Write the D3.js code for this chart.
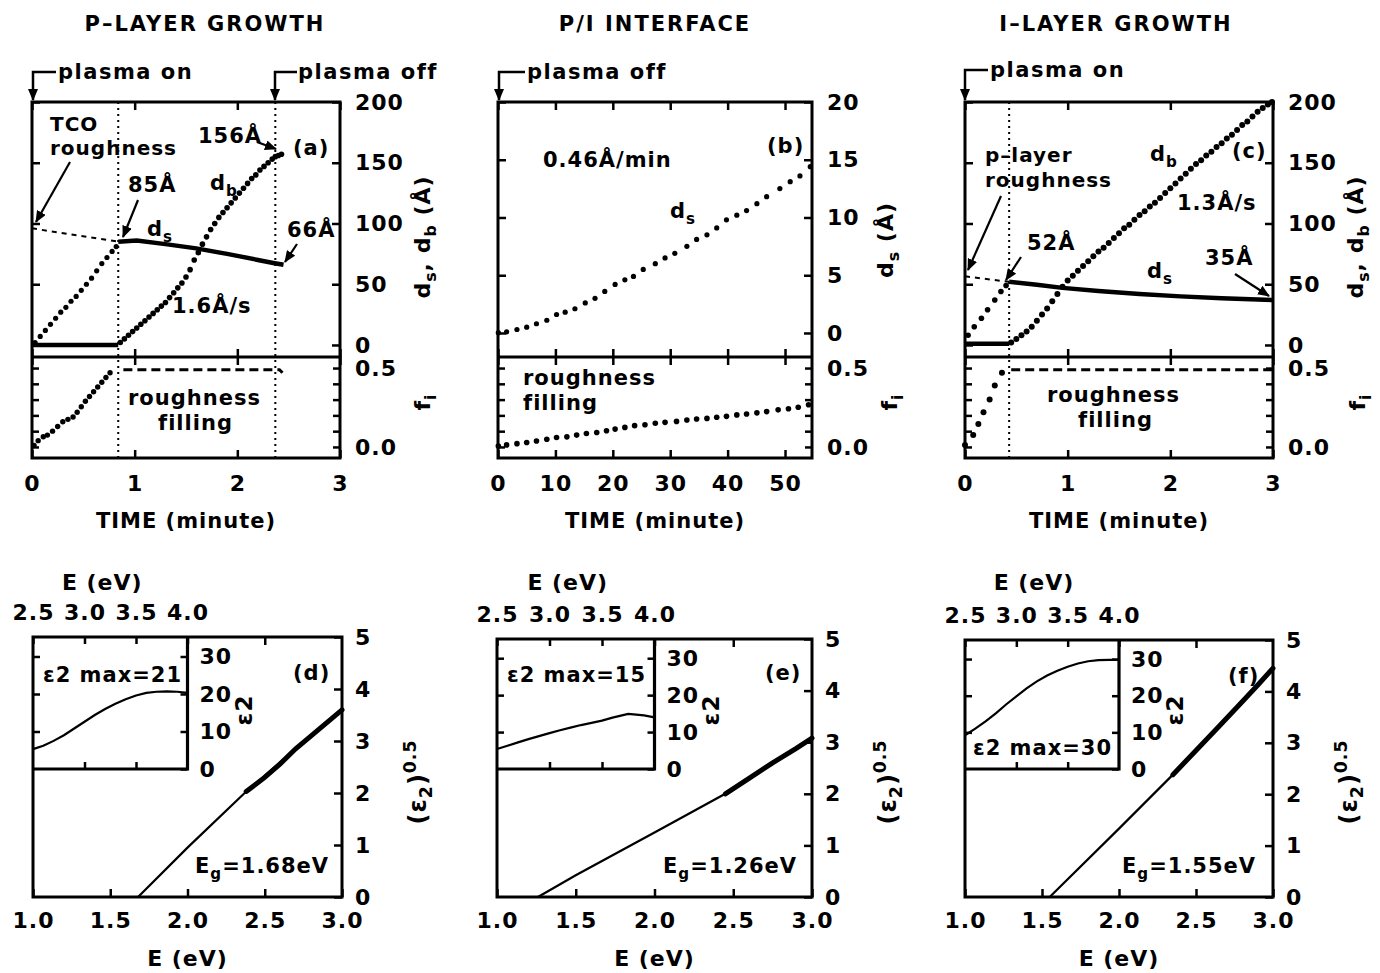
<!DOCTYPE html>
<html>
<head>
<meta charset="utf-8">
<script src="https://cdn.jsdelivr.net/npm/d3@7"></script>
<style>
body{margin:0;background:#fff}
svg text{font-family:"DejaVu Sans",sans-serif;font-weight:bold;fill:#000;letter-spacing:1px}
</style>
</head>
<body>
<svg id="fig" width="1380" height="973"></svg>
<script>
// ---------- top row: thickness / fraction vs time ----------
var titles = ["P–LAYER GROWTH", "P/I INTERFACE", "I–LAYER GROWTH"]

// (a) p-layer growth
var aPreT  = [0.03,0.08,0.13,0.18,0.23,0.28,0.33,0.38,0.43,0.48,0.53,0.58,0.63,0.68,0.73,0.78,0.82]
var aPreD  = [2,7,12,17,22,27,31,36,40,45,50,55,61,67,72,77,81]
var aBulkT = [0.86,0.90,0.94,0.98,1.02,1.06,1.10,1.14,1.18,1.22,1.26,1.30,1.34,1.38,1.42,1.46,1.50,1.54,1.58,1.62,1.66,1.70,1.74,1.78,1.82,1.86,1.90,1.94,1.98,2.02,2.06,2.10,2.14,2.18,2.22,2.26,2.30,2.34,2.37,2.40,2.43]
var aBulkD = [2,5,8,11,14,17,20,23,26,29,32,35,39,43,47,51,56,62,70,76,83,89,95,100,105,109,113,117,121,125,129,133,137,140,144,147,150,153,155,156,157]
var aSurfT = [0.84,1.02,1.30,1.60,1.90,2.20,2.35,2.45]
var aSurfD = [85,86,83,79.5,75,70,67.5,66]
var aZeroT = [0,0.84]
var aZeroD = [0,0]
var aTcoT  = [0,0.84]
var aTcoD  = [96,85]
var aFillT = [0.02,0.06,0.11,0.15,0.20,0.25,0.30,0.35,0.40,0.44,0.48,0.52,0.56,0.60,0.64,0.68,0.72,0.76]
var aFillF = [0.01,0.04,0.065,0.075,0.10,0.13,0.16,0.175,0.19,0.22,0.255,0.29,0.32,0.35,0.38,0.41,0.44,0.47]
var aPlatT = [0.89,2.41,2.44]
var aPlatF = [0.49,0.49,0.47]
var aMarks = [0.84,2.37]

// (b) p/i interface, plasma off
var bT     = [0.06,1.5,3.3,5.0,6.7,8.5,10.2,11.7,13.4,15.2,16.9,18.6,20.4,22.1,23.6,25.3,27.4,29.1,30.8,32.9,34.6,36.4,38.1,39.8,41.6,43.3,45.1,46.8,49.1,50.9,52.6,54.4]
var bD     = [0.03,0.1,0.3,0.5,0.8,1.1,1.6,1.8,2.1,2.6,3.0,3.6,4.2,4.6,4.9,5.5,6.0,6.5,6.9,7.5,8.1,8.5,9.1,9.8,10.2,10.6,11.2,11.8,12.5,13.1,13.6,14.4]
var bFillT = [0.06,1.5,3.3,5.0,6.7,8.5,10.2,12.0,13.7,15.4,17.2,18.9,20.4,22.1,23.8,25.6,27.4,29.1,31.1,32.9,34.6,36.4,38.1,39.8,41.6,43.3,45.1,46.8,48.8,50.6,52.3,54.1]
var bFillF = [0.006,0.013,0.021,0.028,0.038,0.049,0.06,0.064,0.075,0.085,0.092,0.103,0.113,0.124,0.135,0.141,0.15,0.156,0.162,0.171,0.177,0.181,0.188,0.194,0.203,0.209,0.216,0.224,0.235,0.242,0.252,0.267]

// (c) i-layer growth
var cPreT  = [0.03,0.09,0.16,0.22,0.29,0.35,0.40]
var cPreD  = [8,15,22,29,37,44,49]
var cBulkT = [0.45,0.50,0.55,0.60,0.65,0.70,0.75,0.80,0.85,0.90,0.95,1.00,1.05,1.10,1.15,1.20,1.25,1.30,1.35,1.40,1.45,1.50,1.55,1.60,1.65,1.70,1.75,1.80,1.85,1.90,1.95,2.00,2.05,2.10,2.15,2.20,2.25,2.30,2.35,2.40,2.45,2.50,2.55,2.60,2.65,2.70,2.75,2.80,2.85,2.90,2.95,2.99]
var cBulkD = [2,5,8,11,15,20,25,30,36,42,48,53,57,61,65,69,73,77,80,84,88,92,96,99,103,107,110,114,117,121,125,129,133,137,141,145,149,152,156,159,163,166,170,173,177,181,184,188,192,195,198,200]
var cSurfT = [0.43,0.70,0.95,1.30,1.70,2.10,2.50,3.00]
var cSurfD = [52,49.5,47,44.5,42,40,38.5,37]
var cZeroT = [0,0.43]
var cZeroD = [1,1]
var cRouT  = [0,0.43]
var cRouD  = [56.5,52]
var cFillT = [0.0,0.08,0.13,0.18,0.24,0.29,0.36]
var cFillF = [0.013,0.076,0.146,0.22,0.30,0.39,0.47]
var cPlatT = [0.45,3.0]
var cPlatF = [0.49,0.49]
var cMarks = [0.43]

var timeTicksA = [0,1,2,3]
var timeTicksB = [0,10,20,30,40,50]
var dTicksA = [0,50,100,150,200]
var dTicksB = [0,5,10,15,20]
var fTicks = [0,0.1,0.2,0.3,0.4,0.5]

// ---------- bottom row: (eps2)^0.5 vs E, inset eps2 ----------
var dFitE = [1.68,2.0,2.37,2.7,3.0], dFitY = [0,0.95,2.0,2.85,3.6]
var dMeasE = [2.38,2.5,2.6,2.7,2.8,2.9,3.0], dMeasY = [2.03,2.3,2.56,2.85,3.1,3.35,3.6]
var dInE = [2.5,2.6,2.7,2.8,2.9,3.0,3.1,3.2,3.3,3.4,3.5,3.6,3.7,3.8,3.9,4.0]
var dInEps = [5.3,6.2,7.5,9.0,10.8,12.6,14.4,16.0,17.4,18.6,19.6,20.3,20.6,20.7,20.6,20.3]

var eFitE = [1.26,1.5,2.0,2.49,2.75,3.0], eFitY = [0,0.42,1.25,2.07,2.6,3.08]
var eMeasE = [2.45,2.6,2.75,2.9,3.0], eMeasY = [2.0,2.3,2.6,2.88,3.08]
var eInE = [2.5,2.6,2.7,2.8,2.9,3.0,3.1,3.2,3.3,3.4,3.5,3.6,3.7,3.75,3.8,3.9,4.0]
var eInEps = [5.4,6.3,7.2,8.1,8.9,9.7,10.5,11.2,11.9,12.5,13.1,13.9,14.6,14.9,14.8,14.5,14.0]

var fFitE = [1.55,2.0,2.36,2.7,3.0], fFitY = [0,1.33,2.41,3.5,4.45]
var fMeasE = [2.35,2.5,2.65,2.8,2.9,3.0], fMeasY = [2.38,2.85,3.32,3.8,4.12,4.45]
var fInE = [2.5,2.6,2.7,2.8,2.9,3.0,3.1,3.2,3.3,3.4,3.5,3.6,3.7,3.8,3.9,4.0]
var fInEps = [9.2,11.0,13.0,15.2,17.6,19.8,22.0,23.9,25.5,26.8,27.9,28.8,29.4,29.7,29.8,29.8]

var eTicks = [1.0,1.5,2.0,2.5,3.0]
var rootTicks = [0,1,2,3,4,5]
var inETicks = [2.5,3.0,3.5,4.0]
var inEpsTicks = [0,10,20,30]

var svg = d3.select("#fig")
var TOP = 102, MID = 357, BOT = 458
var fmtInt = d3.format("d"), fmt1 = d3.format(".1f")

svg.append("defs").append("marker")
    .attr("id", "arr").attr("viewBox", "0 0 12 10")
    .attr("refX", 11).attr("refY", 5)
    .attr("markerWidth", 12).attr("markerHeight", 10)
    .attr("markerUnits", "userSpaceOnUse").attr("orient", "auto")
  .append("path").attr("d", "M0,0 L12,5 L0,10 Z")

function zip(a, b){ return a.map(function(v, i){ return [v, b[i]] }) }

function styleAxis(sel, size){
  sel.attr("font-size", size || 21).attr("font-family", null)
  sel.select(".domain").remove()
  sel.selectAll(".tick line").attr("stroke-width", 2.5)
  return sel
}

// text with optional sub/superscript pieces
function txt(x, y, segs, o){
  o = o || {}
  var size = o.size || 21
  var t = svg.append("text").attr("x", x).attr("y", y)
      .attr("font-size", size).attr("text-anchor", o.anchor || "start")
  if (o.rot) t.attr("transform", "rotate(-90," + x + "," + y + ")")
  if (o.ls) t.style("letter-spacing", o.ls + "px")
  if (typeof segs === "string") segs = [segs]
  var cur = 0
  segs.forEach(function(s){
    var sp = t.append("tspan")
    if (typeof s === "string"){ sp.text(s); if (cur) sp.attr("dy", -cur); cur = 0 }
    else if (s.sub){ sp.text(s.sub).attr("font-size", size * 0.72).attr("dy", 6 - cur); cur = 6 }
    else if (s.sup){ sp.text(s.sup).attr("font-size", size * 0.72).attr("dy", -10 - cur); cur = -10 }
  })
  return t
}

function arrow(x1, y1, x2, y2){
  svg.append("line").attr("x1", x1).attr("y1", y1).attr("x2", x2).attr("y2", y2)
    .attr("stroke", "#000").attr("stroke-width", 2.2).attr("marker-end", "url(#arr)")
}

function bentArrow(x, textX, y){
  svg.append("path").attr("d", "M" + textX + "," + y + " L" + x + "," + y + " L" + x + "," + (TOP - 2))
    .attr("fill", "none").attr("stroke", "#000").attr("stroke-width", 2.5)
    .attr("marker-end", "url(#arr)")
}

function dots(g, x, y, T, V, r){
  g.append("g").selectAll("circle").data(zip(T, V)).enter().append("circle")
    .attr("cx", function(d){ return x(d[0]) })
    .attr("cy", function(d){ return y(d[1]) })
    .attr("r", r).attr("fill", "#000")
}

function path(g, x, y, T, V, w, dash){
  var line = d3.line().x(function(d){ return x(d[0]) }).y(function(d){ return y(d[1]) })
  var p = g.append("path").datum(zip(T, V)).attr("d", line)
    .attr("fill", "none").attr("stroke", "#000").attr("stroke-width", w)
  if (dash) p.attr("stroke-dasharray", dash)
  return p
}

function topPanel(p){
  var g = svg.append("g")
  var x = d3.scaleLinear().domain([0, p.xMax]).range([p.left, p.right])
  var yU = d3.scaleLinear().domain(p.yDom).range([MID, TOP])
  var yL = d3.scaleLinear().domain([-0.07, 0.57]).range([BOT, MID])

  // vertical markers (plasma on / off)
  p.marks.forEach(function(m){
    g.append("line").attr("x1", x(m)).attr("x2", x(m)).attr("y1", TOP).attr("y2", BOT)
      .attr("stroke", "#000").attr("stroke-width", 2).attr("stroke-dasharray", "2,4")
  })

  // axes
  g.append("g").attr("transform", "translate(" + p.right + ",0)")
    .call(d3.axisRight(yU).tickValues(p.yTicks).tickSizeInner(-8).tickSizeOuter(0).tickPadding(15).tickFormat(fmtInt))
    .call(styleAxis, 22)
  g.append("g").attr("transform", "translate(" + p.left + ",0)")
    .call(d3.axisLeft(yU).tickValues(p.yTicks).tickSizeInner(-8).tickSizeOuter(0).tickFormat(""))
    .call(styleAxis)
  g.append("g").attr("transform", "translate(" + p.right + ",0)")
    .call(d3.axisRight(yL).tickValues(fTicks).tickSizeInner(-7).tickSizeOuter(0).tickPadding(15)
      .tickFormat(function(d){ return (d === 0 || d === 0.5) ? fmt1(d) : "" }))
    .call(styleAxis, 22)
  g.append("g").attr("transform", "translate(" + p.left + ",0)")
    .call(d3.axisLeft(yL).tickValues(fTicks).tickSizeInner(-7).tickSizeOuter(0).tickFormat(""))
    .call(styleAxis)
  g.append("g").attr("transform", "translate(0," + TOP + ")")
    .call(d3.axisTop(x).tickValues(p.xTicks).tickSizeInner(-8).tickSizeOuter(0).tickFormat(""))
    .call(styleAxis)
  g.append("g").attr("transform", "translate(0," + MID + ")")
    .call(d3.axisBottom(x).tickValues(p.xTicks).tickSizeInner(-8).tickSizeOuter(0).tickFormat(""))
    .call(styleAxis)
  g.append("g").attr("transform", "translate(0," + MID + ")")
    .call(d3.axisTop(x).tickValues(p.xTicks).tickSizeInner(-8).tickSizeOuter(0).tickFormat(""))
    .call(styleAxis)
  g.append("g").attr("transform", "translate(0," + BOT + ")")
    .call(d3.axisBottom(x).tickValues(p.xTicks).tickSizeInner(-8).tickSizeOuter(0).tickPadding(17).tickFormat(fmtInt))
    .call(styleAxis, 22)

  // frame
  g.append("rect").attr("x", p.left).attr("y", TOP).attr("width", p.right - p.left).attr("height", BOT - TOP)
    .attr("fill", "none").attr("stroke", "#000").attr("stroke-width", 3)
  g.append("line").attr("x1", p.left).attr("x2", p.right).attr("y1", MID).attr("y2", MID)
    .attr("stroke", "#000").attr("stroke-width", 3)

  p.draw(g, x, yU, yL)

  txt((p.left + p.right) / 2, 528, "TIME (minute)", {anchor: "middle", size: 21})
}

// (a)
topPanel({left: 32, right: 340, xMax: 3, yDom: [-9.9, 200], xTicks: timeTicksA, yTicks: dTicksA, marks: aMarks,
  draw: function(g, x, yU, yL){
    path(g, x, yU, aTcoT, aTcoD, 2, "5,5")
    path(g, x, yU, aZeroT, aZeroD, 4.5)
    dots(g, x, yU, aPreT, aPreD, 2.6)
    path(g, x, yU, aSurfT, aSurfD, 4.5)
    dots(g, x, yU, aBulkT, aBulkD, 2.8)
    dots(g, x, yL, aFillT, aFillF, 2.7)
    path(g, x, yL, aPlatT, aPlatF, 3, "9,5")
  }})
// (b)
topPanel({left: 498, right: 812, xMax: 54.7, yDom: [-2.08, 20], xTicks: timeTicksB, yTicks: dTicksB, marks: [],
  draw: function(g, x, yU, yL){
    dots(g, x, yU, bT, bD, 2.6)
    dots(g, x, yL, bFillT, bFillF, 2.8)
  }})
// (c)
topPanel({left: 965, right: 1273, xMax: 3, yDom: [-9.9, 200], xTicks: timeTicksA, yTicks: dTicksA, marks: cMarks,
  draw: function(g, x, yU, yL){
    path(g, x, yU, cRouT, cRouD, 2, "5,5")
    path(g, x, yU, cZeroT, cZeroD, 4.5)
    dots(g, x, yU, cPreT, cPreD, 2.8)
    path(g, x, yU, cSurfT, cSurfD, 4.5)
    dots(g, x, yU, cBulkT, cBulkD, 3)
    dots(g, x, yL, cFillT, cFillF, 3)
    path(g, x, yL, cPlatT, cPlatF, 3, "9,5")
  }})

// titles
txt(205, 31, titles[0], {anchor: "middle", size: 21, ls: 2})
txt(655, 31, titles[1], {anchor: "middle", size: 21, ls: 2})
txt(1116, 31, titles[2], {anchor: "middle", size: 21, ls: 2})

// plasma arrows
bentArrow(33, 56, 72); txt(58, 79, "plasma on", {ls: 1.5})
bentArrow(275, 297, 72); txt(298, 79, "plasma off", {ls: 1.5})
bentArrow(499, 525, 72); txt(527, 79, "plasma off", {ls: 1.5})
bentArrow(965, 988, 70); txt(990, 77, "plasma on", {ls: 1.5})

// right axis titles (top)
txt(430, 237, ["d", {sub: "s"}, ", d", {sub: "b"}, " (Å)"], {rot: true, anchor: "middle", size: 22})
txt(430, 402, ["f", {sub: "i"}], {rot: true, anchor: "middle", size: 22})
txt(893, 240, ["d", {sub: "s"}, " (Å)"], {rot: true, anchor: "middle", size: 22})
txt(897, 402, ["f", {sub: "i"}], {rot: true, anchor: "middle", size: 22})
txt(1363, 237, ["d", {sub: "s"}, ", d", {sub: "b"}, " (Å)"], {rot: true, anchor: "middle", size: 22})
txt(1365, 402, ["f", {sub: "i"}], {rot: true, anchor: "middle", size: 22})

// annotations (a)
txt(50, 131, "TCO", {size: 20}); txt(50, 155, "roughness", {size: 20})
arrow(70, 162, 36, 222)
txt(128, 192, "85Å"); arrow(138, 200, 123, 237)
txt(147, 236, ["d", {sub: "s"}])
txt(210, 190, ["d", {sub: "b"}])
txt(198, 143, "156Å"); arrow(257, 142, 276, 149)
txt(293, 155, "(a)")
txt(287, 237, "66Å"); arrow(297, 244, 285, 262)
txt(172, 313, "1.6Å/s")
txt(128, 405, "roughness"); txt(158, 430, "filling")

// annotations (b)
txt(543, 167, "0.46Å/min")
txt(767, 153, "(b)")
txt(670, 218, ["d", {sub: "s"}])
txt(523, 385, "roughness"); txt(523, 410, "filling")

// annotations (c)
txt(985, 162, "p–layer", {size: 20}); txt(985, 187, "roughness", {size: 20})
arrow(1001, 196, 968, 270)
txt(1027, 250, "52Å"); arrow(1021, 257, 1006, 280)
txt(1150, 161, ["d", {sub: "b"}])
txt(1232, 158, "(c)")
txt(1177, 210, "1.3Å/s")
txt(1205, 265, "35Å"); arrow(1235, 274, 1269, 296)
txt(1147, 278, ["d", {sub: "s"}])
txt(1047, 402, "roughness"); txt(1078, 427, "filling")

// ---------- bottom row ----------
var BBOT = 897, INBOT = 769
function bottomPanel(p){
  var g = svg.append("g")
  var x = d3.scaleLinear().domain([1, 3]).range([p.left, p.right])
  var y = d3.scaleLinear().domain([0, 5]).range([BBOT, p.top])
  var xi = d3.scaleLinear().domain([2.5, 4.0]).range([p.left, x(2.0)])
  var yi = d3.scaleLinear().domain([0, 35.2]).range([INBOT, p.top])

  g.append("g").attr("transform", "translate(" + p.right + ",0)")
    .call(d3.axisRight(y).tickValues(rootTicks).tickSizeInner(-8).tickSizeOuter(0).tickPadding(13).tickFormat(fmtInt))
    .call(styleAxis, 22)
  g.append("g").attr("transform", "translate(0," + BBOT + ")")
    .call(d3.axisBottom(x).tickValues(eTicks).tickSizeInner(-8).tickSizeOuter(0).tickPadding(15).tickFormat(fmt1))
    .call(styleAxis, 22)
  g.append("g").attr("transform", "translate(0," + p.top + ")")
    .call(d3.axisTop(x).tickValues([2.5]).tickSizeInner(-8).tickSizeOuter(0).tickFormat(""))
    .call(styleAxis)

  // inset axes
  g.append("g").attr("transform", "translate(0," + p.top + ")")
    .call(d3.axisTop(xi).tickValues(inETicks).tickSizeInner(-7).tickSizeOuter(0).tickPadding(17).tickFormat(fmt1))
    .call(styleAxis, 22)
  g.append("g").attr("transform", "translate(0," + INBOT + ")")
    .call(d3.axisBottom(xi).tickValues([3.0, 3.5]).tickSizeInner(-7).tickSizeOuter(0).tickFormat(""))
    .call(styleAxis)
  g.append("g").attr("transform", "translate(" + xi(4.0) + ",0)")
    .call(d3.axisRight(yi).tickValues(inEpsTicks).tickSizeInner(-7).tickSizeOuter(0).tickPadding(12).tickFormat(fmtInt))
    .call(styleAxis, 22)
  g.append("g").attr("transform", "translate(" + p.left + ",0)")
    .call(d3.axisLeft(yi).tickValues([10, 20, 30]).tickSizeInner(-7).tickSizeOuter(0).tickFormat(""))
    .call(styleAxis)

  g.append("rect").attr("x", p.left).attr("y", p.top).attr("width", p.right - p.left).attr("height", BBOT - p.top)
    .attr("fill", "none").attr("stroke", "#000").attr("stroke-width", 3)
  g.append("path").attr("d", "M" + (p.left - 1) + "," + INBOT + " H" + xi(4.0) + " V" + p.top)
    .attr("fill", "none").attr("stroke", "#000").attr("stroke-width", 3.2)

  path(g, x, y, p.fitE, p.fitY, 2.2)
  path(g, x, y, p.measE, p.measY, 5).attr("stroke-linecap", "round")
  path(g, xi, yi, p.inE, p.inEps, 2.2)

  var mid = (p.left + xi(4.0)) / 2
  txt(mid - 8, 590, "E (eV)", {anchor: "middle", size: 22})
  txt(xi(4.0) + 64, 710, ["ε2"], {rot: true, anchor: "middle", size: 23})
  txt(p.right + 84, 782, ["(ε", {sub: "2"}, ")", {sup: "0.5"}], {rot: true, anchor: "middle", size: 24})
  txt((p.left + p.right) / 2, 966, "E (eV)", {anchor: "middle", size: 22})
}

bottomPanel({left: 33, right: 342, top: 637, fitE: dFitE, fitY: dFitY, measE: dMeasE, measY: dMeasY, inE: dInE, inEps: dInEps})
bottomPanel({left: 497, right: 812, top: 639, fitE: eFitE, fitY: eFitY, measE: eMeasE, measY: eMeasY, inE: eInE, inEps: eInEps})
bottomPanel({left: 965, right: 1273, top: 640, fitE: fFitE, fitY: fFitY, measE: fMeasE, measY: fMeasY, inE: fInE, inEps: fInEps})

txt(43, 682, "ε2 max=21")
txt(293, 680, "(d)")
txt(195, 873, ["E", {sub: "g"}, "=1.68eV"])
txt(507, 682, "ε2 max=15")
txt(765, 680, "(e)")
txt(663, 873, ["E", {sub: "g"}, "=1.26eV"])
txt(973, 755, "ε2 max=30")
txt(1228, 683, "(f)")
txt(1122, 873, ["E", {sub: "g"}, "=1.55eV"])
</script>
</body>
</html>
